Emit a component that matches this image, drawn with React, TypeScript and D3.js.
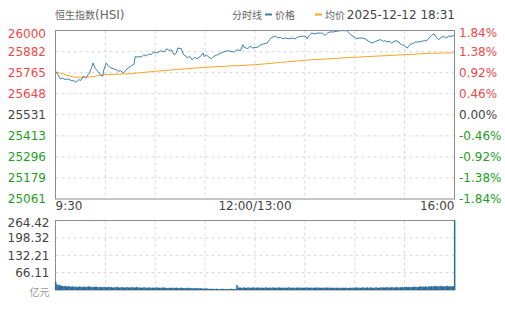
import React from 'react';
import * as d3 from 'd3';

// ---- data ----
const priceMinutes = [0,2,4,6,8,10,13,16,17,19,21,23,25,27,28,30,31,33,35,37,39,40,42,44,46,48,50,52,54,56,58,60,62,65,66,68,70,71,73,75,77,79,81,84,87,90,92,94,96,98,100,101,104,106,108,109,111,113,115,117,120,122,123,125,127,129,131,134,137,139,142,145,148,150,153,155,156,159,161,163,165,167,170,172,175,177,179,182,184,186,188,190,193,196,198,200,203,205,207,208,210,212,214,217,219,221,223,225,227,230,233,236,238,241,243,244,246,249,251,254,256,259,262,264,266,269,271,273,274,276,278,280,282,284,285,287,289,291,292,293,296,298,300,303,305,307,309,311,313,315,317,319,321,323,325,328,330];
const priceValues = [25773,25754,25731,25735,25726,25730,25722,25717,25711,25726,25722,25745,25735,25754,25763,25795,25819,25787,25773,25754,25745,25782,25819,25800,25791,25787,25782,25773,25776,25763,25776,25791,25800,25813,25856,25851,25856,25851,25865,25858,25869,25865,25880,25875,25887,25880,25899,25887,25893,25865,25875,25902,25899,25865,25856,25847,25856,25837,25851,25843,25856,25875,25856,25862,25851,25843,25856,25865,25875,25880,25887,25884,25880,25893,25887,25921,25906,25899,25912,25902,25906,25906,25921,25925,25930,25949,25962,25968,25958,25962,25954,25958,25954,25958,25953,25962,25968,25968,25968,25954,25973,25986,25981,25986,25986,25984,25973,25986,25992,25992,25996,25999,25999,25999,25986,25977,25968,25954,25958,25958,25954,25940,25930,25936,25943,25949,25940,25943,25936,25940,25930,25940,25943,25936,25925,25921,25912,25902,25912,25921,25930,25936,25936,25940,25943,25943,25958,25973,25981,25962,25949,25962,25968,25958,25968,25968,25973];

const avgMinutes = [0,16,29,41,62,83,103,124,144,165,186,206,227,248,268,289,309,328,330];
const avgValues = [25769,25739,25741,25754,25759,25773,25784,25795,25802,25809,25822,25834,25843,25851,25858,25865,25873,25875,25884];

const volumes = [
  32,
  22,18,20,16,17,
  15,14,16,13,14,15,13,12,14,13,
  12,13,11,12,14,12,11,13,12,11,12,14,13,12,11,
  12,11,13,12,11,10,12,11,10,12,11,10,11,12,10,
  11,10,9,11,10,12,10,9,10,11,10,9,10,11,9,
  10,9,11,10,9,10,12,9,10,9,8,10,9,10,8,9,10,9,8,9,
  9,8,9,10,8,9,8,9,10,8,9,8,7,9,8,8,9,7,8,9,
  8,7,8,9,7,8,7,8,7,9,7,8,7,6,7,8,6,7,6,7,
  6,5,6,5,6,5,4,5,4,5,4,4,5,4,3,4,4,5,4,3,4,4,3,4,5,4,4,3,4,
  19,
  10,9,9,8,9,10,8,9,9,10,8,9,10,9,8,9,9,10,8,9,
  9,8,9,10,9,8,9,9,8,10,9,8,9,9,10,8,9,8,9,9,
  8,9,10,9,8,9,9,8,9,10,8,9,9,8,9,8,9,10,8,9,
  9,8,9,8,9,10,8,9,8,9,8,9,9,8,10,8,9,8,9,8,
  8,9,8,9,7,8,9,8,8,9,8,7,8,9,8,9,8,9,10,8,
  9,8,9,10,9,8,9,10,8,9,10,9,8,9,10,9,8,9,10,9,
  10,9,10,11,9,10,9,11,10,9,10,11,10,9,11,10,11,10,12,11,
  11,12,10,11,12,11,13,12,11,12,13,14,12,13,12,14,13,12,14,13,
  15,13,14,16,14,13,15,14,16,13,14,15,14,16,13,15,14,13,15,
  264.42,
];

const priceTicks = [26000, 25882, 25765, 25648, 25531, 25413, 25296, 25179, 25061];
const pctTicks = ['1.84%', '1.38%', '0.92%', '0.46%', '0.00%', '-0.46%', '-0.92%', '-1.38%', '-1.84%'];
const volTicks = [264.42, 198.32, 132.21, 66.11];
const timeLabels = ['9:30', '12:00/13:00', '16:00'];
const prevClose = 25531;
const totalMinutes = 330;

const FONT = '"DejaVu Sans", "Noto Sans CJK SC", sans-serif';
const RED = '#f04848';
const GREEN = '#1e9e1e';
const NEUTRAL = '#444';
const BLUE = '#3c80b2';
const ORANGE = '#f6a623';
const BAR = '#2a6c9c';

export default function App() {
  const L = 55.5, R = 454.5;
  const mainTop = 30.5, mainBottom = 199;
  const volTop = 220.5, volBottom = 290;

  const x = d3.scaleLinear().domain([0, totalMinutes]).range([L, R]);
  const y = d3.scaleLinear().domain([priceTicks[priceTicks.length - 1], priceTicks[0]]).range([mainBottom, mainTop]);
  const yv = d3.scaleLinear().domain([0, volTicks[0]]).range([volBottom, volTop]);

  const pricePts: [number, number][] = priceMinutes.map((m, i) => [m, priceValues[i]]);
  const avgPts: [number, number][] = avgMinutes.map((m, i) => [m, avgValues[i]]);
  const line = d3.line<[number, number]>().x(d => x(d[0])).y(d => y(d[1]));

  const vGrid = d3.range(1, 8).map(k => L + (k * (R - L)) / 8);
  const bw = x(1) - x(0);
  const n = volumes.length;
  // bars are placed by minute index; the last entry is the closing session at 16:00
  const barX = (i: number) => (i === n - 1 ? x(totalMinutes) : x(i));

  const colorFor = (v: number) => (v > prevClose ? RED : v < prevClose ? GREEN : NEUTRAL);

  return (
    <svg width={505} height={310} style={{ position: 'absolute', left: 0, top: 0 }} fontFamily={FONT}>
      <rect x={0} y={0} width={505} height={310} fill="#fff" />
      {/* header */}
      <text x={55} y={19} fill="#666" fontSize={12}>
        <tspan fontSize={10}>恒生指数</tspan>(HSI)
      </text>
      <text x={232} y={19} fill="#666" fontSize={10}>分时线</text>
      <line x1={265} x2={272} y1={14.5} y2={14.5} stroke={BLUE} strokeWidth={2} />
      <text x={275} y={19} fill="#666" fontSize={10}>价格</text>
      <line x1={315} x2={322} y1={14.5} y2={14.5} stroke={ORANGE} strokeWidth={2} />
      <text x={325} y={19} fill="#666" fontSize={10}>均价</text>
      <text x={455} y={19} fill="#444" fontSize={12} textAnchor="end">2025-12-12 18:31</text>

      {/* main grid */}
      {priceTicks.slice(1, -1).map((t, i) => (
        <line key={'hg' + i} x1={L} x2={R} y1={y(t)} y2={y(t)} stroke="#d8d8d8" strokeDasharray="3,3" />
      ))}
      {vGrid.map((gx, i) => (
        <line key={'vg' + i} x1={gx} x2={gx} y1={mainTop} y2={mainBottom} stroke="#d8d8d8" strokeDasharray="3,3" />
      ))}

      <path d={line(avgPts) || ''} fill="none" stroke={ORANGE} strokeWidth={1} />
      <path d={line(pricePts) || ''} fill="none" stroke={BLUE} strokeWidth={1} />

      <rect x={L} y={mainTop} width={R - L} height={mainBottom - mainTop} fill="none" stroke="#8c8c8c" strokeWidth={1} />

      {/* price axis labels */}
      {priceTicks.map((t, i) => {
        const cy = i === 0 ? y(t) + 3.5 : y(t);
        return (
          <text key={'pl' + i} x={46} y={cy + 4.4} fill={colorFor(t)} fontSize={12} textAnchor="end">{t}</text>
        );
      })}
      {pctTicks.map((t, i) => {
        const v = priceTicks[i];
        const cy = i === 0 ? y(v) + 2.5 : y(v);
        return (
          <text key={'pr' + i} x={459} y={cy + 4.4} fill={colorFor(v)} fontSize={12}>{t}</text>
        );
      })}

      {/* time labels */}
      <text x={L} y={210} fill="#444" fontSize={12}>{timeLabels[0]}</text>
      <text x={(L + R) / 2} y={210} fill="#444" fontSize={12} textAnchor="middle">{timeLabels[1]}</text>
      <text x={R} y={210} fill="#444" fontSize={12} textAnchor="end">{timeLabels[2]}</text>

      {/* volume panel */}
      {volTicks.slice(1).map((t, i) => (
        <line key={'vh' + i} x1={L} x2={R} y1={yv(t)} y2={yv(t)} stroke="#d8d8d8" strokeDasharray="3,3" />
      ))}
      {vGrid.map((gx, i) => (
        <line key={'vv' + i} x1={gx} x2={gx} y1={volTop} y2={volBottom} stroke="#d8d8d8" strokeDasharray="3,3" />
      ))}
      <rect x={L} y={volTop} width={R - L} height={volBottom - volTop} fill="none" stroke="#8c8c8c" strokeWidth={1} />
      {volumes.map((v, i) => (
        <rect key={'b' + i} x={barX(i) - bw / 2} y={yv(v)} width={bw + 0.3} height={volBottom - yv(v)} fill={BAR} />
      ))}
      {volTicks.map((t, i) => {
        const cy = i === 0 ? yv(t) + 1.8 : yv(t);
        return (
          <text key={'vl' + i} x={49.5} y={cy + 4.4} fill="#444" fontSize={12} textAnchor="end">{t.toFixed(2)}</text>
        );
      })}
      <text x={49.5} y={295.5} fill="#999" fontSize={10} textAnchor="end">亿元</text>
    </svg>
  );
}
